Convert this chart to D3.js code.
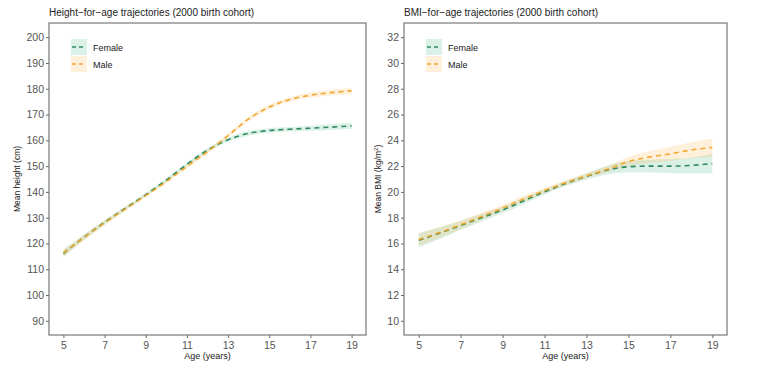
<!DOCTYPE html>
<html>
<head>
<meta charset="utf-8">
<script src="https://cdn.jsdelivr.net/npm/d3@7"></script>
<style>
  body { margin: 0; background: #fff; }
  svg { display: block; font-family: "Liberation Sans", Arial, sans-serif; }
</style>
</head>
<body>
<svg id="chart" width="768" height="381"></svg>
<script>
// ages on the x axis
var ages = [5, 6, 7, 8, 9, 10, 11, 12, 13, 14, 15, 16, 17, 18, 19];
var ageTicks = [5, 7, 9, 11, 13, 15, 17, 19];

// height (cm)
var heightFemale = [116.1, 122.4, 128.2, 133.6, 138.9, 144.6, 150.7, 156.2, 160.2, 162.7, 163.8, 164.3, 164.7, 165.1, 165.6];
var heightFemaleLo = [114.6, 121.3, 127.3, 132.9, 138.3, 144.0, 150.0, 155.5, 159.4, 161.8, 162.9, 163.4, 163.7, 164.0, 164.4];
var heightFemaleHi = [117.6, 123.5, 129.1, 134.3, 139.5, 145.2, 151.4, 156.9, 161.0, 163.6, 164.7, 165.2, 165.7, 166.2, 166.8];
var heightMale = [116.3, 122.3, 128.0, 133.3, 138.6, 144.0, 149.9, 155.6, 161.8, 168.3, 172.9, 175.8, 177.5, 178.5, 179.2];
var heightMaleLo = [114.8, 121.2, 127.1, 132.6, 138.0, 143.4, 149.2, 154.9, 161.0, 167.4, 172.0, 174.9, 176.5, 177.4, 178.0];
var heightMaleHi = [117.8, 123.4, 128.9, 134.0, 139.2, 144.6, 150.6, 156.3, 162.6, 169.2, 173.8, 176.7, 178.5, 179.6, 180.4];
var heightTicks = [90, 100, 110, 120, 130, 140, 150, 160, 170, 180, 190, 200];

// BMI (kg/m2)
var bmiFemale = [16.25, 16.8, 17.4, 18.0, 18.6, 19.3, 20.0, 20.65, 21.2, 21.7, 21.95, 22.0, 22.0, 22.05, 22.2];
var bmiFemaleLo = [15.7, 16.35, 17.05, 17.7, 18.35, 19.05, 19.8, 20.45, 20.95, 21.35, 21.5, 21.5, 21.45, 21.45, 21.45];
var bmiFemaleHi = [16.8, 17.25, 17.75, 18.3, 18.85, 19.55, 20.2, 20.85, 21.45, 22.05, 22.4, 22.5, 22.55, 22.65, 22.95];
var bmiMale = [16.3, 16.85, 17.45, 18.1, 18.75, 19.45, 20.1, 20.7, 21.25, 21.75, 22.35, 22.7, 22.95, 23.25, 23.45];
var bmiMaleLo = [15.8, 16.45, 17.1, 17.8, 18.5, 19.2, 19.9, 20.5, 21.05, 21.5, 22.0, 22.25, 22.4, 22.6, 22.7];
var bmiMaleHi = [16.8, 17.25, 17.8, 18.4, 19.0, 19.7, 20.3, 20.9, 21.45, 22.0, 22.7, 23.15, 23.5, 23.85, 24.15];
var bmiTicks = [10, 12, 14, 16, 18, 20, 22, 24, 26, 28, 30, 32];

var sexes = ["Female", "Male"];
var lineColors = { Female: "#2f8a60", Male: "#f2a72e" };
var fillColors = { Female: "#4dbb8e", Male: "#fbb448" };

var svg = d3.select("#chart");
svg.append("rect").attr("width", 768).attr("height", 381).attr("fill", "#fff");

function drawPanel(opt) {
	var g = svg.append("g");
	var x = d3.scaleLinear().domain([4.3, 19.7]).range([opt.left, opt.right]);
	var y = d3.scaleLinear().domain(opt.domain).range([335, 23]);

	g.append("text")
		.attr("x", opt.left).attr("y", 16)
		.attr("font-size", 10).attr("fill", "#222")
		.text(opt.title);

	var series = [
		{ sex: "Female", mid: opt.female, lo: opt.femaleLo, hi: opt.femaleHi },
		{ sex: "Male", mid: opt.male, lo: opt.maleLo, hi: opt.maleHi }
	];

	var area = d3.area()
		.x(function(d) { return x(d.age); })
		.y0(function(d) { return y(d.lo); })
		.y1(function(d) { return y(d.hi); })
		.curve(d3.curveMonotoneX);
	var line = d3.line()
		.x(function(d) { return x(d.age); })
		.y(function(d) { return y(d.v); })
		.curve(d3.curveMonotoneX);

	series.forEach(function(s) {
		var pts = ages.map(function(a, i) { return { age: a, lo: s.lo[i], hi: s.hi[i], v: s.mid[i] }; });
		g.append("path").datum(pts)
			.attr("d", area)
			.attr("fill", fillColors[s.sex])
			.attr("fill-opacity", 0.2);
	});
	series.forEach(function(s) {
		var pts = ages.map(function(a, i) { return { age: a, v: s.mid[i] }; });
		g.append("path").datum(pts)
			.attr("d", line)
			.attr("fill", "none")
			.attr("stroke", lineColors[s.sex])
			.attr("stroke-width", 1.6)
			.attr("stroke-dasharray", "5,4");
	});

	// axes
	var yAxis = d3.axisLeft(y).tickValues(opt.ticks).tickSize(3).tickPadding(2);
	var gy = g.append("g").attr("transform", "translate(" + opt.left + ",0)").call(yAxis);
	var xAxis = d3.axisBottom(x).tickValues(ageTicks).tickSize(3).tickPadding(4);
	var gx = g.append("g").attr("transform", "translate(0,335)").call(xAxis);
	[gx, gy].forEach(function(ax) {
		ax.select(".domain").remove();
		ax.selectAll(".tick line").attr("stroke", "#666");
		ax.selectAll(".tick text").attr("fill", "#555").attr("font-size", 10.5)
			.attr("font-family", "Liberation Sans, Arial, sans-serif");
	});

	// panel border
	g.append("rect")
		.attr("x", opt.left).attr("y", 23)
		.attr("width", opt.right - opt.left).attr("height", 312)
		.attr("fill", "none").attr("stroke", "#777").attr("stroke-width", 1.2);

	g.append("text")
		.attr("x", (opt.left + opt.right) / 2).attr("y", 359)
		.attr("text-anchor", "middle").attr("font-size", 9).attr("fill", "#222")
		.text("Age (years)");

	var yl = g.append("text")
		.attr("transform", "translate(" + opt.ylabX + ",179) rotate(-90)")
		.attr("text-anchor", "middle").attr("font-size", 8.5).attr("fill", "#222");
	yl.append("tspan").text(opt.ylab);
	if (opt.ylabSup) {
		yl.append("tspan").attr("font-size", 6).attr("dy", -3).text(opt.ylabSup);
		yl.append("tspan").attr("dy", 3).text(")");
	}

	// legend
	var lg = g.append("g").attr("transform", "translate(" + (opt.left + 22) + ",39)");
	sexes.forEach(function(s, i) {
		var row = lg.append("g").attr("transform", "translate(0," + (i * 17) + ")");
		row.append("rect").attr("width", 16).attr("height", 16)
			.attr("fill", fillColors[s]).attr("fill-opacity", 0.2);
		row.append("line").attr("x1", 1).attr("x2", 15).attr("y1", 8).attr("y2", 8)
			.attr("stroke", lineColors[s]).attr("stroke-width", 1.6)
			.attr("stroke-dasharray", "4,3");
		row.append("text").attr("x", 22).attr("y", 11.5)
			.attr("font-size", 9).attr("fill", "#222").text(s);
	});
}

drawPanel({
	left: 49, right: 366, domain: [84.5, 205.5], ticks: heightTicks,
	title: "Height\u2212for\u2212age trajectories (2000 birth cohort)",
	ylab: "Mean height (cm)", ylabX: 20,
	female: heightFemale, femaleLo: heightFemaleLo, femaleHi: heightFemaleHi,
	male: heightMale, maleLo: heightMaleLo, maleHi: heightMaleHi
});

drawPanel({
	left: 404, right: 727, domain: [8.9, 33.1], ticks: bmiTicks,
	title: "BMI\u2212for\u2212age trajectories (2000 birth cohort)",
	ylab: "Mean BMI (kg/m", ylabSup: "2", ylabX: 381,
	female: bmiFemale, femaleLo: bmiFemaleLo, femaleHi: bmiFemaleHi,
	male: bmiMale, maleLo: bmiMaleLo, maleHi: bmiMaleHi
});
</script>
</body>
</html>
